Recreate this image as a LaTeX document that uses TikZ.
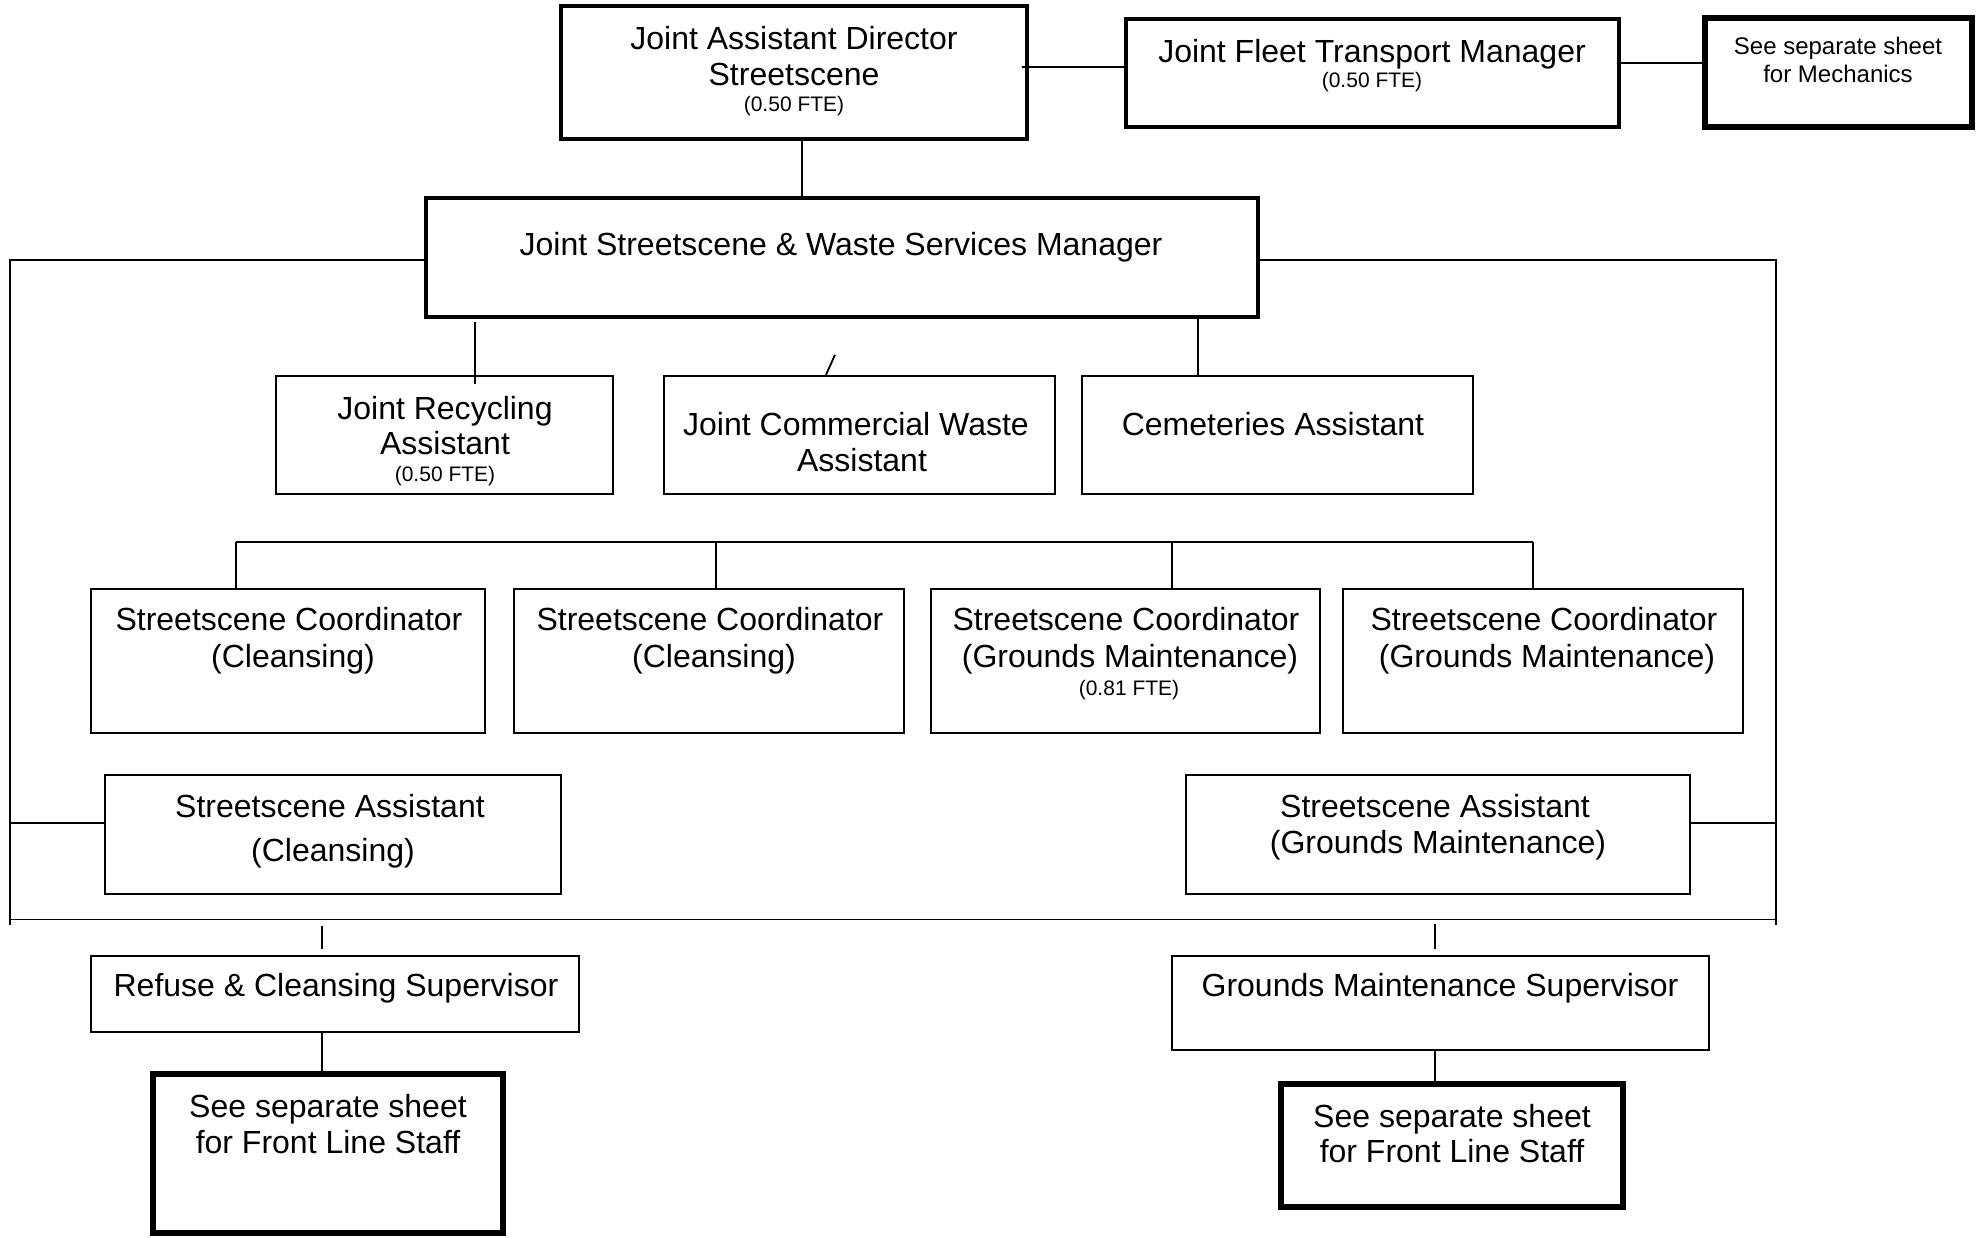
\documentclass[tikz,border=0pt]{standalone}
\usepackage{fontspec}
\setmainfont{Liberation Sans}
\usetikzlibrary{fit}
\begin{document}
\begin{tikzpicture}[x=0.025cm,y=-0.025cm,
  box/.style={draw, line width=1.7pt, inner sep=0pt},
  boxthick/.style={box, line width=2.8pt},
  boxheavy/.style={box, line width=3.8pt},
  conn/.style={line width=1.3pt},
  main/.style={font=\fontsize{22.76}{26}\selectfont, anchor=base, inner sep=0pt},
  small/.style={font=\fontsize{14.94}{17}\selectfont, anchor=base, inner sep=0pt},
  mech/.style={font=\fontsize{17.07}{20}\selectfont, anchor=base, inner sep=0pt}]
\useasboundingbox (0,0) rectangle (1986,1237);
% boxes
\node[boxthick, fit={(561,6) (1027,139)}] (A) {};
\node[boxthick, fit={(1126,19) (1619,127)}] (B) {};
\node[boxheavy, fit={(1705,18) (1972,127)}] (C) {};
\node[boxthick, fit={(426,198) (1258,317)}] (D) {};
\node[box, fit={(276,376) (613,494)}] (E) {};
\node[box, fit={(664,376) (1055,494)}] (F) {};
\node[box, fit={(1082,376) (1473,494)}] (G) {};
\node[box, fit={(91,589) (485,733)}] (H1) {};
\node[box, fit={(514,589) (904,733)}] (H2) {};
\node[box, fit={(931,589) (1320,733)}] (H3) {};
\node[box, fit={(1343,589) (1743,733)}] (H4) {};
\node[box, fit={(105,775) (561,894)}] (I1) {};
\node[box, fit={(1186,775) (1690,894)}] (I2) {};
\node[box, fit={(91,956) (579,1032)}] (J1) {};
\node[box, fit={(1172,956) (1709,1050)}] (J2) {};
\node[boxheavy, fit={(153,1074) (503,1233)}] (K1) {};
\node[boxheavy, fit={(1281,1084) (1623,1207)}] (K2) {};
% texts
\node[main] (tA1) at (794,49.5) {Joint Assistant Director};
\node[main] (tA2) at (794,85) {Streetscene};
\node[small] (tA3) at (794,111.6) {(0.50 FTE)};
\node[main] (tB1) at (1372,62.5) {Joint Fleet Transport Manager};
\node[small] (tB2) at (1372,87.6) {(0.50 FTE)};
\node[mech] (tC1) at (1838,54.6) {See separate sheet};
\node[mech] (tC2) at (1838,82) {for Mechanics};
\node[main] (tD1) at (841,255.5) {Joint Streetscene \& Waste Services Manager};
\node[main] (tE1) at (445,419.5) {Joint Recycling};
\node[main] (tE2) at (445,454.5) {Assistant};
\node[small] (tE3) at (445,481.6) {(0.50 FTE)};
\node[main] (tF1) at (856,435.5) {Joint Commercial Waste};
\node[main] (tF2) at (862,471.5) {Assistant};
\node[main] (tG1) at (1273,435.5) {Cemeteries Assistant};
\node[main] (tH11) at (289,630.5) {Streetscene Coordinator};
\node[main] (tH12) at (293,667.5) {(Cleansing)};
\node[main] (tH21) at (710,630.5) {Streetscene Coordinator};
\node[main] (tH22) at (714,667.5) {(Cleansing)};
\node[main] (tH31) at (1126,630.5) {Streetscene Coordinator};
\node[main] (tH32) at (1130,667.5) {(Grounds Maintenance)};
\node[small] (tH33) at (1129,695.6) {(0.81 FTE)};
\node[main] (tH41) at (1544,630.5) {Streetscene Coordinator};
\node[main] (tH42) at (1547,667.5) {(Grounds Maintenance)};
\node[main] (tI11) at (330,817) {Streetscene Assistant};
\node[main] (tI12) at (333,861.5) {(Cleansing)};
\node[main] (tI21) at (1435,817) {Streetscene Assistant};
\node[main] (tI22) at (1438,853.5) {(Grounds Maintenance)};
\node[main] (tJ1) at (336,996.5) {Refuse \& Cleansing Supervisor};
\node[main] (tJ2) at (1440,996.5) {Grounds Maintenance Supervisor};
\node[main] (tK11) at (328,1117.5) {See separate sheet};
\node[main] (tK12) at (328,1153.5) {for Front Line Staff};
\node[main] (tK21) at (1452,1127.5) {See separate sheet};
\node[main] (tK22) at (1452,1162.5) {for Front Line Staff};
% helper coordinates
\coordinate (LB) at (10,925);
\coordinate (RB) at (1776,925);
\coordinate (LH) at (10,919.5);
\coordinate (RH) at (1776,919.5);
\coordinate (busL) at (236,542);
\coordinate (busR) at (1533,542);
% connectors
\draw[conn] ([shift={(-7,-5.5)}]A.east) -- ([shift={(0,-6)}]B.west);
\draw[conn] ([shift={(-4,-10)}]B.east) -- ([shift={(0,-9.5)}]C.west);
\draw[conn] ([shift={(8,0)}]A.south) -- ([shift={(8,0)}]A.south |- D.north);
\draw[conn] ([shift={(0,2.5)}]D.west) -| (LB);
\draw[conn] ([shift={(0,2.5)}]D.east) -| (RB);
\draw[conn] (LH) -- (RH);
\draw[conn] ([shift={(30.5,-53)}]E.north) -- ([shift={(30.5,9)}]E.north);
\draw[conn] ([shift={(-24.5,-20)}]F.north) -- ([shift={(-33.5,0)}]F.north);
\draw[conn] ([shift={(-79.5,0)}]G.north) -- ([shift={(-79.5,0)}]G.north |- D.south);
\draw[conn] (busL) -- (busR);
\draw[conn] (busL) -- (busL |- H1.north);
\draw[conn] ([shift={(7,0)}]H2.north) -- ([shift={(7,0)}]H2.north |- busL);
\draw[conn] ([shift={(46.5,0)}]H3.north) -- ([shift={(46.5,0)}]H3.north |- busL);
\draw[conn] (busR) -- (busR |- H4.north);
\draw[conn] ([shift={(0,-11.5)}]I1.west) -- ([shift={(0,-11.5)}]I1.west -| LB);
\draw[conn] ([shift={(0,-11.5)}]I2.east) -- ([shift={(0,-11.5)}]I2.east -| RB);
\draw[conn] ([shift={(-13,-29)}]J1.north) -- ([shift={(-13,-6)}]J1.north);
\draw[conn] ([shift={(-13,0)}]J1.south) -- ([shift={(-13,0)}]J1.south |- K1.north);
\draw[conn] ([shift={(-5.5,-31)}]J2.north) -- ([shift={(-5.5,-6)}]J2.north);
\draw[conn] ([shift={(-5.5,0)}]J2.south) -- ([shift={(-5.5,0)}]J2.south |- K2.north);
\end{tikzpicture}
\end{document}
